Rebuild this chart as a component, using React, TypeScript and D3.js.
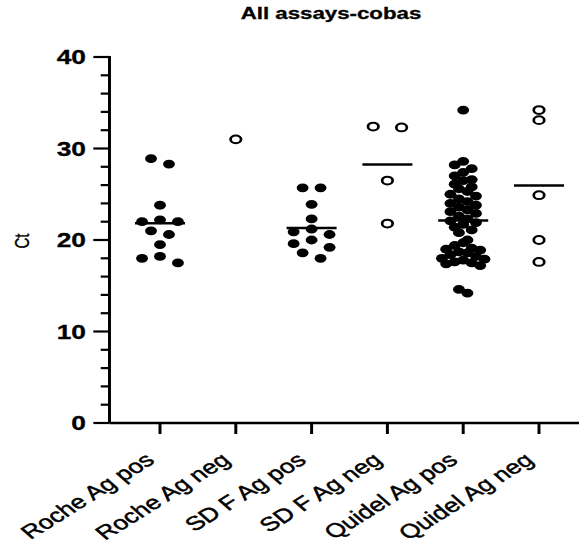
import * as d3 from 'd3';
import { useEffect, useRef } from 'react';

// the source picture is stretched sideways, so we draw in a narrower
// logical space and let the viewBox stretch it back out
const S = 1.35;
const W = 582;
const H = 551;
const LW = W / S;

const categories = ['Roche Ag pos', 'Roche Ag neg', 'SD F Ag pos', 'SD F Ag neg', 'Quidel Ag pos', 'Quidel Ag neg'];

const rochePos = [28.9, 28.3, 23.8, 22.2, 22.0, 22.0, 21.0, 20.6, 19.5, 18.2, 18.0, 17.5];
const rocheNeg = [31.0];
const sdfPos = [25.7, 25.7, 23.9, 22.3, 21.2, 20.9, 20.6, 20.0, 19.6, 19.2, 18.6, 18.0];
const sdfNeg = [32.4, 32.3, 26.5, 21.8];
const quidelPos = [
  34.2, 28.6, 28.2, 27.8, 27.4, 27.0, 26.6, 26.5, 26.1, 25.8, 25.6, 25.3, 25.0, 24.8,
  24.5, 24.2, 24.0, 23.8, 23.6, 23.3, 23.1, 22.9, 22.6, 22.3, 22.1, 21.9, 21.7,
  21.4, 21.1, 20.8, 20.0, 19.7, 19.4, 19.1, 19.0, 18.9, 18.7, 18.6, 18.4, 18.2,
  18.0, 17.9, 17.8, 17.6, 17.5, 17.4, 17.2, 14.6, 14.2,
];
const quidelNeg = [34.2, 33.1, 24.9, 20.0, 17.6];

const groups = [rochePos, rocheNeg, sdfPos, sdfNeg, quidelPos, quidelNeg];
const filled = [true, false, true, false, true, false];

const yTicks = [0, 10, 20, 30, 40];
const yMinor = d3.range(0, 41, 2);

const FONT = "'Liberation Sans', Arial, sans-serif";

const App = () => {
  const ref = useRef(null);

  useEffect(() => {
    const svg = d3.select(ref.current);
    svg.selectAll('*').remove();

    const axisX = 109.5 / S;
    const axisEnd = 579 / S;
    const y = d3.scaleLinear().domain([0, 40]).range([423, 57]);
    const x = d3.scalePoint().domain(categories).range([160 / S, 539 / S]);

    // title
    svg.append('text')
      .attr('x', 331 / S)
      .attr('y', 19)
      .attr('text-anchor', 'middle')
      .style('font-family', FONT)
      .style('font-weight', 'bold')
      .style('font-size', '16.5px')
      .style('stroke', '#000')
      .style('stroke-width', 0.3)
      .text('All assays-cobas');

    // y axis title
    svg.append('text')
      .attr('transform', `translate(${29 / S}, 241) rotate(-90)`)
      .attr('text-anchor', 'middle')
      .style('font-family', FONT)
      .style('font-size', '15px')
      .style('stroke', '#000')
      .style('stroke-width', 0.3)
      .text('Ct');

    // y axis
    const ya = svg.append('g');
    ya.append('line')
      .attr('x1', axisX).attr('x2', axisX)
      .attr('y1', y(40) - 1).attr('y2', y(0))
      .attr('stroke', '#000').attr('stroke-width', 2.2);
    yMinor.forEach(v => {
      const major = v % 10 === 0;
      ya.append('line')
        .attr('x1', axisX - (major ? 12 : 6.5)).attr('x2', axisX)
        .attr('y1', y(v)).attr('y2', y(v))
        .attr('stroke', '#000').attr('stroke-width', 2.2);
    });
    yTicks.forEach(v => {
      ya.append('text')
        .attr('x', 86 / S)
        .attr('y', y(v))
        .attr('dy', '0.36em')
        .attr('text-anchor', 'end')
        .style('font-family', FONT)
        .style('font-weight', 'bold')
        .style('font-size', '19.5px')
        .style('stroke', '#000')
        .style('stroke-width', 0.3)
        .text(v);
    });

    // x axis
    const xa = svg.append('g');
    xa.append('line')
      .attr('x1', axisX).attr('x2', axisEnd)
      .attr('y1', y(0)).attr('y2', y(0))
      .attr('stroke', '#000').attr('stroke-width', 2.5);
    categories.forEach(c => {
      xa.append('line')
        .attr('x1', x(c)).attr('x2', x(c))
        .attr('y1', y(0)).attr('y2', y(0) + 11)
        .attr('stroke', '#000').attr('stroke-width', 2.2);
      xa.append('text')
        .attr('transform', `translate(${x(c) - 3}, ${y(0) + 39}) rotate(-40)`)
        .attr('text-anchor', 'end')
        .style('font-family', FONT)
        .style('font-size', '19.5px')
        .style('stroke', '#000')
        .style('stroke-width', 0.45)
        .text(c);
    });

    // dots, binned into rows and spread sideways like GraphPad does
    const r = 4.4;
    const binH = 8;
    groups.forEach((vals, gi) => {
      const cx = x(categories[gi]);
      const n = vals.length;
      const step = n <= 6 ? 21 : n <= 20 ? 13.3 : 6.3;
      const sorted = [...vals].sort((a, b) => b - a);
      const rows = [];
      let cur = null;
      sorted.forEach(v => {
        const py = y(v);
        if (!cur || py - cur.top >= binH) {
          cur = { top: py, pts: [] };
          rows.push(cur);
        }
        cur.pts.push(v);
      });
      const pts = [];
      rows.forEach(row => {
        const m = row.pts.length;
        row.pts.forEach((v, i) => {
          let off;
          if (m % 2 === 1) {
            const k = Math.ceil(i / 2);
            off = i === 0 ? 0 : (i % 2 === 1 ? -k : k);
          } else {
            const k = Math.floor(i / 2) + 0.5;
            off = i % 2 === 0 ? -k : k;
          }
          pts.push({ x: cx + off * step, y: y(v) });
        });
      });

      const g = svg.append('g');
      g.selectAll('circle')
        .data(pts)
        .enter()
        .append('circle')
        .attr('cx', d => d.x)
        .attr('cy', d => d.y)
        .attr('r', filled[gi] ? r : 3.9)
        .attr('fill', filled[gi] ? '#000' : '#fff')
        .attr('stroke', '#000')
        .attr('stroke-width', filled[gi] ? 0 : 2);

      if (n > 1) {
        const m = d3.mean(vals);
        g.append('line')
          .attr('x1', cx - 25 / S).attr('x2', cx + 25 / S)
          .attr('y1', y(m)).attr('y2', y(m))
          .attr('stroke', '#000').attr('stroke-width', 2.5);
      }
    });
  }, []);

  return (
    <svg
      ref={ref}
      width={W}
      height={H}
      viewBox={`0 0 ${LW} ${H}`}
      preserveAspectRatio="none"
      style={{ position: 'absolute', left: 0, top: 0, background: '#fff' }}
    />
  );
};

export default App;
